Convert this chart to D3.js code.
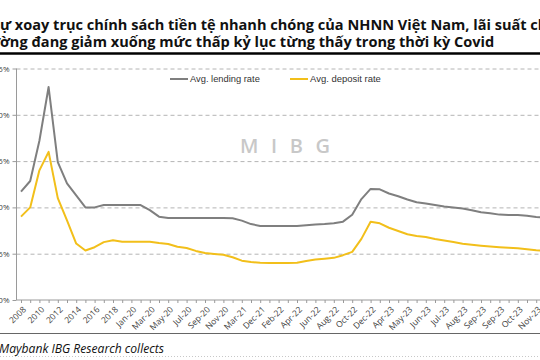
<!DOCTYPE html>
<html>
<head>
<meta charset="utf-8">
<script src="https://cdn.jsdelivr.net/npm/d3@7"></script>
<style>
  html, body { margin: 0; padding: 0; background: #fff; overflow: hidden; }
  svg { display: block; }
</style>
</head>
<body>
<div id="chart"></div>
<script>
// ---------- data ----------
const titleLine1 = "Sự xoay trục chính sách tiền tệ nhanh chóng của NHNN Việt Nam, lãi suất cho vay và huy động trên thị";
const titleLine2 = "trường đang giảm xuống mức thấp kỷ lục từng thấy trong thời kỳ Covid";
const sourceText = "Maybank IBG Research collects";
const watermark = "MIBG";
const seriesNames = ["Avg. lending rate", "Avg. deposit rate"];

const categories = ["2008","2009","2010","2011","2012","2013","2014","2015","2016","2017","2018","2019",
  "Jan-20","Feb-20","Mar-20","Apr-20","May-20","Jun-20","Jul-20","Aug-20","Sep-20","Oct-20","Nov-20","Dec-20",
  "Mar-21","Sep-21","Dec-21","Jan-22","Feb-22","Mar-22","Apr-22","May-22","Jun-22","Jul-22","Aug-22","Sep-22",
  "Oct-22","Nov-22","Dec-22","Mar-23","Apr-23","Apr-23","May-23","May-23","Jun-23","Jun-23","Jul-23","Jul-23",
  "Aug-23","Aug-23","Sep-23","Sep-23","Sep-23","Oct-23","Oct-23","Oct-23","Nov-23","Nov-23"];

const lendingRate = [11.7,12.85,17.2,23.0,14.9,12.6,11.3,10.0,10.0,10.25,10.25,10.25,
  10.25,10.25,9.7,9.0,8.85,8.85,8.85,8.85,8.85,8.85,8.85,8.82,
  8.57,8.2,8.0,7.98,7.98,7.98,8.0,8.07,8.15,8.2,8.28,8.46,
  9.2,10.9,12.0,11.95,11.5,11.2,10.85,10.55,10.42,10.25,10.1,10.0,
  9.87,9.7,9.47,9.38,9.22,9.18,9.18,9.1,8.97,8.9];

const depositRate = [9.0,10.0,14.0,16.0,11.0,8.6,6.1,5.35,5.7,6.25,6.45,6.3,
  6.3,6.3,6.3,6.15,6.05,5.75,5.62,5.3,5.07,4.97,4.88,4.62,
  4.25,4.1,4.02,4.0,4.0,4.0,4.02,4.22,4.37,4.45,4.55,4.84,
  5.2,6.6,8.45,8.28,7.8,7.45,7.1,6.92,6.8,6.58,6.42,6.26,
  6.08,5.97,5.86,5.77,5.7,5.65,5.58,5.47,5.37,5.3];

const yTicks = [0, 5, 10, 15, 20, 25];

// ---------- layout ----------
const W = 540, H = 360;
const colors = ["#7f7f7f", "#f2bf1a"];
const svg = d3.select("#chart").append("svg").attr("width", W).attr("height", H);

const x = d3.scaleLinear().domain([0, categories.length - 1]).range([21, 21 + (categories.length - 1) * 9.2]);
const y = d3.scaleLinear().domain([0, 25]).range([300, 68.5]);

function fitFontSize(sel, start, count, target) {
  const fs0 = 20;
  sel.attr("font-size", fs0);
  const w = sel.node().getSubStringLength(start, count);
  const fs = fs0 * target / w;
  sel.attr("font-size", fs);
  return fs;
}

// ---------- title ----------
const t1 = svg.append("text").attr("y", 30).attr("font-family", "'Open Sans', sans-serif")
  .attr("font-weight", 700).attr("fill", "#111").text(titleLine1);
const endIdx = titleLine1.indexOf("cho vay") + 1;
const tfs = fitFontSize(t1, 1, endIdx - 1, 538);
t1.attr("x", -t1.node().getSubStringLength(0, 1));

const t2 = svg.append("text").attr("y", 47).attr("font-family", "'Open Sans', sans-serif")
  .attr("font-weight", 700).attr("font-size", tfs).attr("fill", "#111").text(titleLine2);
t2.attr("x", -t2.node().getSubStringLength(0, 3));

svg.append("line").attr("x1", 0).attr("x2", W).attr("y1", 53.5).attr("y2", 53.5)
  .attr("stroke", "#000").attr("stroke-width", 2.5);

// ---------- watermark ----------
const wm = svg.append("text").attr("x", 240).attr("y", 153)
  .attr("font-family", "'Open Sans', sans-serif").attr("font-weight", 600)
  .attr("font-size", 20).attr("fill", "#c8c8c8").text(watermark);
const wmW = wm.node().getComputedTextLength();
wm.attr("letter-spacing", (90 - wmW) / 3);

// ---------- grid ----------
svg.append("g").attr("transform", "translate(16.5,0)")
  .call(d3.axisLeft(y).tickValues(yTicks.filter(d => d > 0)).tickSize(-W).tickFormat(""))
  .call(g => g.select(".domain").remove())
  .call(g => g.selectAll("line").attr("stroke", "#b4b4b4").attr("stroke-dasharray", "4,3"));

// ---------- y axis ----------
svg.append("g").attr("transform", "translate(16.5,0)")
  .call(d3.axisLeft(y).tickValues(yTicks).tickSize(4).tickPadding(3).tickFormat(d => d + "%"))
  .call(g => g.select(".domain").attr("stroke", "#9a9a9a").attr("d", `M0,${y(25)}V${y(0)}`))
  .call(g => g.selectAll("line").attr("stroke", "#9a9a9a"))
  .call(g => g.selectAll("text").attr("fill", "#404040").attr("font-size", 8)
    .attr("font-family", "'Open Sans', sans-serif"));

// ---------- x axis ----------
const xg = svg.append("g").attr("transform", `translate(0,${y(0)})`)
  .call(d3.axisBottom(x).tickValues(d3.range(categories.length)).tickSize(3)
    .tickFormat(i => i % 2 === 0 ? categories[i] : ""))
  .call(g => g.select(".domain").attr("stroke", "#9a9a9a").attr("d", `M16.5,0H${W}`))
  .call(g => g.selectAll("line").attr("stroke", "#9a9a9a"));
xg.selectAll("text")
  .attr("fill", "#404040").attr("font-size", 8.5).attr("font-family", "'Open Sans', sans-serif")
  .attr("text-anchor", "end").attr("y", 0).attr("dy", "0.35em")
  .attr("transform", "translate(3,8) rotate(-45)");

// ---------- lines ----------
const line = d3.line().x((d, i) => x(i)).y(d => y(d));
[lendingRate, depositRate].forEach((s, k) => {
  svg.append("path").datum(s).attr("d", line).attr("fill", "none")
    .attr("stroke", colors[k]).attr("stroke-width", 2).attr("stroke-linejoin", "round");
});

// ---------- legend ----------
const legX = [170, 290];
seriesNames.forEach((n, k) => {
  svg.append("line").attr("x1", legX[k]).attr("x2", legX[k] + 18).attr("y1", 79).attr("y2", 79)
    .attr("stroke", colors[k]).attr("stroke-width", 2);
  const lt = svg.append("text").attr("x", legX[k] + 20).attr("y", 82)
    .attr("font-family", "'Liberation Sans', sans-serif").attr("fill", "#333").text(n);
  fitFontSize(lt, 0, n.length, k === 0 ? 70 : 71);
});

// ---------- footer ----------
svg.append("line").attr("x1", 0).attr("x2", W).attr("y1", 333.5).attr("y2", 333.5)
  .attr("stroke", "#666").attr("stroke-width", 1);
const src = svg.append("text").attr("x", -1).attr("y", 352.5)
  .attr("font-family", "'Open Sans', sans-serif").attr("font-style", "italic")
  .attr("fill", "#111").text(sourceText);
fitFontSize(src, 0, sourceText.length, 165);
svg.append("line").attr("x1", 0).attr("x2", W).attr("y1", 356.5).attr("y2", 356.5)
  .attr("stroke", "#c8c8c8").attr("stroke-width", 1).attr("stroke-dasharray", "1,2");
</script>
</body>
</html>
